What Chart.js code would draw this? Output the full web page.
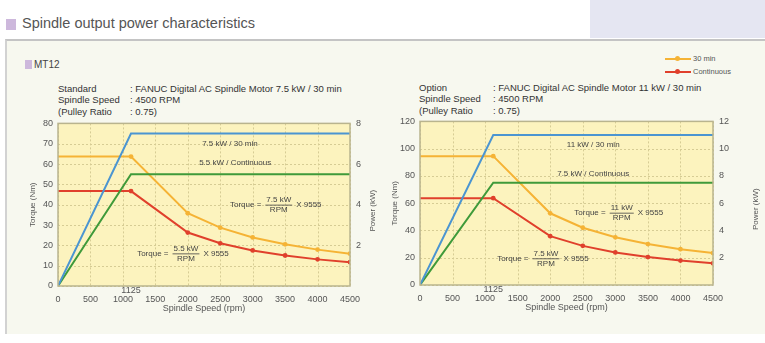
<!DOCTYPE html>
<html>
<head>
<meta charset="utf-8">
<script src="https://cdn.jsdelivr.net/npm/chart.js@4.4.1/dist/chart.umd.min.js"></script>
<style>
  body { margin:0; width:765px; height:343px; background:#fff; position:relative; overflow:hidden;
         font-family:"Liberation Sans", Arial, sans-serif; color:#333; }
  .abs { position:absolute; white-space:nowrap; }
  .sq { position:absolute; background:#cdb8dc; }
  #corner { position:absolute; left:590px; top:0; width:175px; height:38px; background:#e5e6f2; }
  #panel { position:absolute; left:5px; top:39px; width:758px; height:293px; background:#f7f8ef;
           border-top:2px solid #c4c4c4; border-left:2px solid #d2d2d2; }
  .title { left:22px; top:15px; font-size:14.5px; color:#555; }
  .head { font-size:9.5px; color:#333; line-height:11.3px; }
  .head .k { display:inline-block; }
  canvas { position:absolute; }
  .leg { font-size:7.5px; color:#555; position:absolute; }
  .leg .ln { position:absolute; left:-28px; top:4px; width:26px; height:2px; }
  .leg .dt { position:absolute; left:-18px; top:2px; width:5px; height:5px; border-radius:50%; }
</style>
</head>
<body>
<div id="corner"></div>
<div class="sq" style="left:6px;top:19px;width:10px;height:11px"></div>
<div class="abs title">Spindle output power characteristics</div>
<div id="panel"></div>
<div class="sq" style="left:25px;top:60px;width:7px;height:9px"></div>
<div class="abs" style="left:34px;top:59px;font-size:10px;color:#444">MT12</div>

<div class="abs head" style="left:58px;top:83px">
  <span class="k" style="width:72px">Standard</span>: FANUC Digital AC Spindle Motor 7.5 kW / 30 min<br>
  <span class="k" style="width:72px">Spindle Speed</span>: 4500 RPM<br>
  <span class="k" style="width:72px">(Pulley Ratio</span>: 0.75)
</div>
<div class="abs head" style="left:419px;top:82px">
  <span class="k" style="width:74px">Option</span>: FANUC Digital AC Spindle Motor 11 kW / 30 min<br>
  <span class="k" style="width:74px">Spindle Speed</span>: 4500 RPM<br>
  <span class="k" style="width:74px">(Pulley Ratio</span>: 0.75)
</div>

<div class="leg" style="left:693px;top:54px"><span class="ln" style="background:#f5b335"></span><span class="dt" style="background:#f5b335"></span>30 min</div>
<div class="leg" style="left:693px;top:67px"><span class="ln" style="background:#e0402c"></span><span class="dt" style="background:#e0402c"></span>Continuous</div>

<canvas id="std" width="375" height="203" style="left:15px;top:112px"></canvas>
<canvas id="opt" width="385" height="204" style="left:377px;top:110px"></canvas>

<script>
// spindle speed (rpm) where each curve is sampled
const torqueSpeeds = [0, 1125, 2000, 2500, 3000, 3500, 4000, 4500];
const powerSpeeds = [0, 1125, 4500];
const speedTicks = [0, 500, 1000, 1500, 2000, 2500, 3000, 3500, 4000, 4500];
const baseSpeedLabel = '1125';

// standard motor 7.5 kW / 30 min
const stdTorque30 = [63.7, 63.7, 35.8, 28.7, 23.9, 20.5, 17.9, 15.9];
const stdTorqueCont = [46.7, 46.7, 26.3, 21.0, 17.5, 15.0, 13.1, 11.7];
const stdPower30 = [0, 7.5, 7.5];
const stdPowerCont = [0, 5.5, 5.5];

// option motor 11 kW / 30 min
const optTorque30 = [94.5, 94.5, 52.6, 42.0, 35.0, 30.0, 26.3, 23.4];
const optTorqueCont = [63.7, 63.7, 35.8, 28.7, 23.9, 20.5, 17.9, 15.9];
const optPower30 = [0, 11, 11];
const optPowerCont = [0, 7.5, 7.5];

const BLUE = '#4b95d1', GREEN = '#3f9a3a', ORANGE = '#f5b335', RED = '#e0402c';
const TXT = '#555';

function pts(xs, ys) { return xs.map((x, i) => ({ x: x, y: ys[i] })); }

const frame = {
  id: 'frame',
  beforeDraw(chart) {
    const a = chart.chartArea, ctx = chart.ctx;
    ctx.save();
    ctx.fillStyle = '#fcf3be';
    ctx.fillRect(a.left, a.top, a.right - a.left, a.bottom - a.top);
    ctx.restore();
  },
  beforeDatasetsDraw(chart) {
    // dotted grid on the x ticks and the left torque ticks
    const a = chart.chartArea, ctx = chart.ctx;
    ctx.save();
    ctx.strokeStyle = '#d6cc94';
    ctx.lineWidth = 1;
    ctx.setLineDash([2, 2]);
    ctx.beginPath();
    chart.scales.x.ticks.forEach(t => {
      const px = Math.round(chart.scales.x.getPixelForValue(t.value)) + 0.5;
      ctx.moveTo(px, a.top); ctx.lineTo(px, a.bottom);
    });
    chart.scales.y.ticks.forEach(t => {
      const py = Math.round(chart.scales.y.getPixelForValue(t.value)) + 0.5;
      ctx.moveTo(a.left, py); ctx.lineTo(a.right, py);
    });
    ctx.stroke();
    ctx.restore();
  },
  afterDraw(chart) {
    const a = chart.chartArea, ctx = chart.ctx, o = chart.options.plugins.frame;
    const sx = chart.scales.x, sy = chart.scales.y;
    ctx.save();
    ctx.strokeStyle = '#b9b48e';
    ctx.lineWidth = 1.5;
    ctx.strokeRect(a.left, a.top, a.right - a.left, a.bottom - a.top);

    ctx.fillStyle = TXT;
    ctx.font = '9px "Liberation Sans", Arial, sans-serif';
    ctx.textAlign = 'center';
    ctx.textBaseline = 'middle';
    ctx.fillText(baseSpeedLabel, sx.getPixelForValue(1125), a.bottom + 5);
    ctx.fillText('Spindle Speed (rpm)', (a.left + a.right) / 2, a.bottom + 23);

    ctx.font = '8px "Liberation Sans", Arial, sans-serif';
    const cy = (a.top + a.bottom) / 2;
    ctx.save(); ctx.translate(a.left - 25, cy); ctx.rotate(-Math.PI / 2);
    ctx.fillText('Torque (Nm)', 0, 0); ctx.restore();
    ctx.save(); ctx.translate(a.right + o.powerGap, cy + 6); ctx.rotate(-Math.PI / 2);
    ctx.fillText('Power (kW)', 0, 0); ctx.restore();

    // curve captions
    ctx.fillStyle = '#444';
    o.captions.forEach(c => {
      ctx.textAlign = 'center';
      ctx.fillText(c.text, sx.getPixelForValue(c.x), sy.getPixelForValue(c.y));
    });
    o.formulas.forEach(f => {
      let x = sx.getPixelForValue(f.x);
      const y = sy.getPixelForValue(f.y);
      ctx.textAlign = 'left';
      ctx.fillText('Torque =', x, y);
      x += ctx.measureText('Torque =').width + 4;
      const fw = Math.max(ctx.measureText(f.num).width, ctx.measureText('RPM').width) + 2;
      ctx.textAlign = 'center';
      ctx.fillText(f.num, x + fw / 2, y - 5);
      ctx.fillText('RPM', x + fw / 2, y + 5.5);
      ctx.fillRect(x, y, fw, 0.8);
      ctx.textAlign = 'left';
      ctx.fillText('X 9555', x + fw + 4, y);
    });
    ctx.restore();
  }
};

function makeChart(id, t30, tCont, p30, pCont, yMax, yStep, y2Max, captions, formulas, yWidth, y2Width, powerGap) {
  const marks = torqueSpeeds.map((s, i) => i === 0 ? 0 : 2.4);
  new Chart(document.getElementById(id), {
    type: 'line',
    data: {
      datasets: [
        { data: pts(powerSpeeds, p30), yAxisID: 'y2', borderColor: BLUE, borderWidth: 2, pointRadius: 0 },
        { data: pts(powerSpeeds, pCont), yAxisID: 'y2', borderColor: GREEN, borderWidth: 2, pointRadius: 0 },
        { data: pts(torqueSpeeds, t30), yAxisID: 'y', borderColor: ORANGE, backgroundColor: ORANGE,
          borderWidth: 2, pointRadius: marks, pointBorderWidth: 0 },
        { data: pts(torqueSpeeds, tCont), yAxisID: 'y', borderColor: RED, backgroundColor: RED,
          borderWidth: 2, pointRadius: marks, pointBorderWidth: 0 }
      ]
    },
    options: {
      responsive: false,
      animation: false,
      layout: { padding: { top: 10, left: 0, right: 0, bottom: 0 } },
      elements: { line: { tension: 0 } },
      plugins: {
        legend: { display: false },
        tooltip: { enabled: false },
        frame: { captions: captions, formulas: formulas, powerGap: powerGap }
      },
      scales: {
        x: {
          type: 'linear', min: 0, max: 4500,
          afterBuildTicks: s => { s.ticks = speedTicks.map(v => ({ value: v })); },
          afterFit: s => { s.height = 29; },
          grid: { display: false, drawTicks: false },
          border: { display: false },
          ticks: { padding: 8, color: TXT, font: { size: 9 }, callback: v => String(v) }
        },
        y: {
          min: 0, max: yMax,
          afterFit: s => { s.width = yWidth; },
          grid: { display: false, drawTicks: false },
          border: { display: false },
          ticks: { stepSize: yStep, padding: 5, color: TXT, font: { size: 9 } }
        },
        y2: {
          position: 'right', min: 0, max: y2Max,
          afterFit: s => { s.width = y2Width; },
          grid: { display: false, drawTicks: false },
          border: { display: false },
          ticks: { stepSize: 2, padding: 6, color: TXT, font: { size: 9 },
                   callback: v => v === 0 ? '' : v }
        }
      }
    },
    plugins: [frame]
  });
}

makeChart('std', stdTorque30, stdTorqueCont, stdPower30, stdPowerCont, 80, 10, 8,
  [{ text: '7.5 kW / 30 min', x: 2650, y: 70 }, { text: '5.5 kW / Continuous', x: 2730, y: 60.5 }],
  [{ num: '7.5 kW', x: 2650, y: 40 }, { num: '5.5 kW', x: 1220, y: 16 }],
  43, 40, 23);

makeChart('opt', optTorque30, optTorqueCont, optPower30, optPowerCont, 120, 20, 12,
  [{ text: '11 kW / 30 min', x: 2660, y: 103 }, { text: '7.5 kW / Continuous', x: 2660, y: 81.5 }],
  [{ num: '11 kW', x: 2370, y: 53 }, { num: '7.5 kW', x: 1185, y: 19.5 }],
  43, 49, 43);
</script>
</body>
</html>
